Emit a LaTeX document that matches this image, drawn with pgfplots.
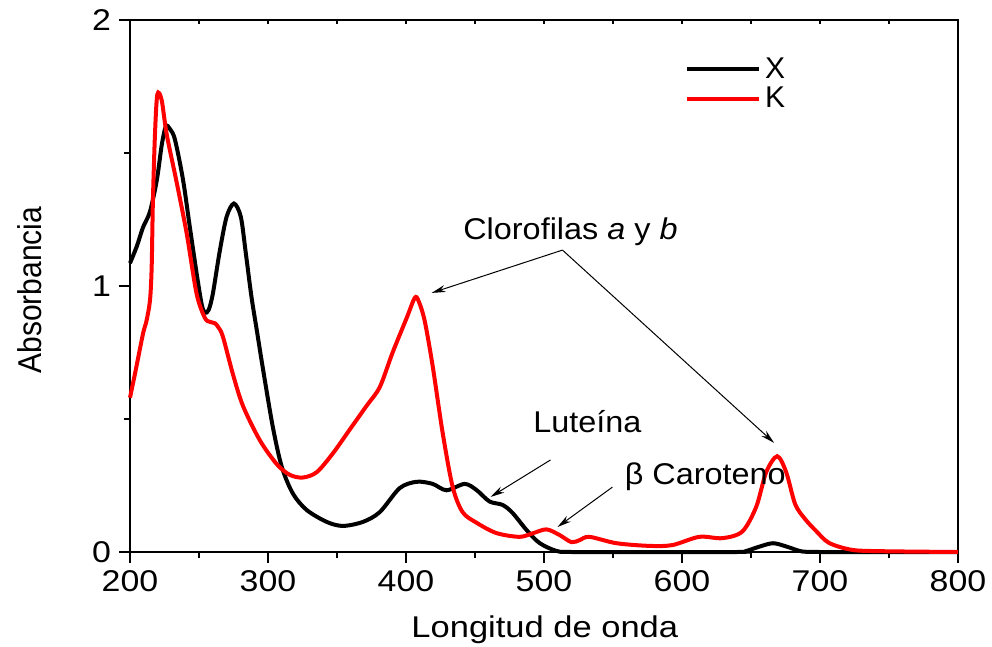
\documentclass[border=0pt]{standalone}
\usepackage{fontspec}
\setmainfont{Liberation Sans}
\usepackage{pgfplots}
\pgfplotsset{compat=1.18}
\usetikzlibrary{arrows.meta}
\newcommand{\fs}{\fontsize{15}{18}\selectfont}
\begin{document}
\begin{tikzpicture}
\begin{axis}[name=ax, scale only axis, width=414pt, height=266pt,
 xmin=200, xmax=800, ymin=0, ymax=2,
 xtick={200,300,...,800}, minor xtick={250,350,...,750},
 ytick={0,1,2}, minor ytick={0.5,1.5},
 xtick pos=bottom, ytick pos=left, tick align=outside,
 major tick length=5.5pt, minor tick length=3pt,
 every tick/.style={black, line width=0.9pt},
 axis line style={line width=1pt},
 /pgf/number format/assume math mode=true,
 tick label style={font=\fs, xscale=1.13},
 xlabel={Longitud de onda}, ylabel={Absorbancia},
 label style={font=\fs},
 xlabel style={at={(axis description cs:0.501,-0.160)}, anchor=base, xscale=1.15},
 ylabel style={at={(axis description cs:-0.1063,0.492)}, anchor=base, yscale=1.1},
 legend style={draw=none, fill=none, at={(axis description cs:0.67,0.938)}, anchor=north west, font=\fs, inner sep=0pt, row sep=-1pt},
 legend cell align=left,
 legend image code/.code={\draw[#1, line width=2pt] (0pt,0pt) -- (36pt,0pt);},
 clip=false,
]
\addplot[black, line width=2pt, smooth] coordinates {
(200,1.086) (205,1.15) (209.4,1.22) (214.5,1.28) (219.5,1.40) (223,1.53) (226,1.60) (229,1.59) (232.6,1.55) (238.4,1.40) (243.4,1.22) (248.5,1.04) (252,0.93) (254.3,0.90) (257,0.91) (260,0.97) (265,1.13) (270,1.26) (275.3,1.31) (280.3,1.26) (284,1.12) (288,0.96) (292,0.83) (296.3,0.69) (303.5,0.47) (310,0.32) (318,0.22) (328,0.158) (342.6,0.113) (354.2,0.098) (368.7,0.113) (381,0.15) (395.4,0.24) (407.7,0.264) (419.3,0.256) (429.4,0.232) (442.5,0.256) (451.1,0.233) (460.5,0.19) (470,0.177) (477.2,0.147) (487.3,0.083) (496.7,0.034) (509,0.004) (520,0) (580,0) (640,0) (646,0.003) (656,0.02) (666,0.033) (676,0.02) (687,0.002) (700,0) (750,0) (800,0)
};
\addlegendentry{X}
\addplot[red, line width=2pt, smooth] coordinates {
(200,0.58) (204,0.68) (209.4,0.82) (212,0.87) (214.5,0.947) (215.7,1.07) (216.6,1.32) (218.1,1.57) (219.8,1.72) (222.9,1.70) (226.6,1.57) (233.8,1.39) (241,1.20) (248.3,0.97) (254.3,0.88) (258,0.865) (261.5,0.86) (264,0.845) (267.3,0.81) (274.5,0.67) (281.8,0.55) (294.1,0.42) (306.4,0.33) (315.8,0.29) (325.2,0.28) (335.3,0.30) (346.9,0.37) (359.2,0.46) (371.5,0.55) (381,0.62) (390.3,0.75) (400.5,0.88) (406.3,0.955) (409,0.945) (413.5,0.87) (419.3,0.70) (426.5,0.45) (433.8,0.245) (441,0.15) (451.1,0.11) (465.6,0.071) (482.3,0.057) (491.7,0.07) (501.8,0.085) (511.2,0.064) (519.9,0.037) (526,0.045) (532.9,0.057) (552.5,0.033) (576.3,0.023) (593,0.026) (612.5,0.057) (629.2,0.052) (643.7,0.077) (653.8,0.17) (661,0.30) (669,0.36) (675.5,0.30) (682,0.18) (689,0.125) (697,0.08) (706.6,0.034) (723.3,0.008) (745,0.003) (800,0)
};
\addlegendentry{K}
\draw[line width=0.5pt, -{Stealth[length=7pt,width=3.5pt]}] (axis cs:513.4,1.135) -- (axis cs:418.6,0.974);
\draw[line width=0.5pt, -{Stealth[length=7pt,width=3.5pt]}] (axis cs:513.4,1.135) -- (axis cs:666.8,0.41);
\draw[line width=0.5pt, -{Stealth[length=7pt,width=3.5pt]}] (axis cs:504.7,0.346) -- (axis cs:461.3,0.207);
\draw[line width=0.5pt, -{Stealth[length=7pt,width=3.5pt]}] (axis cs:549.6,0.244) -- (axis cs:509.8,0.094);
\node[font=\fs, xscale=1.08] at (axis cs:519.2,1.203) {Clorofilas \textit{a} y \textit{b}};
\node[font=\fs, xscale=1.08] at (axis cs:531.5,0.489) {Luteína};
\node[font=\fs, xscale=1.08] at (axis cs:616.9,0.282) {β Caroteno};
\end{axis}
\begin{axis}[scale only axis, width=414pt, height=266pt,
 xmin=200, xmax=800, ymin=0, ymax=2,
 axis x line*=top, axis y line=none,
 xtick={200,250,...,800}, xticklabels={}, tick align=inside,
 major tick length=2pt, every tick/.style={black, line width=0.6pt},
 axis line style={line width=1pt}]
\end{axis}
\pgfresetboundingbox
\path ([shift={(-65pt,-47pt)}]ax.south west) rectangle ([shift={(17pt,10pt)}]ax.north east);
\end{tikzpicture}
\end{document}
